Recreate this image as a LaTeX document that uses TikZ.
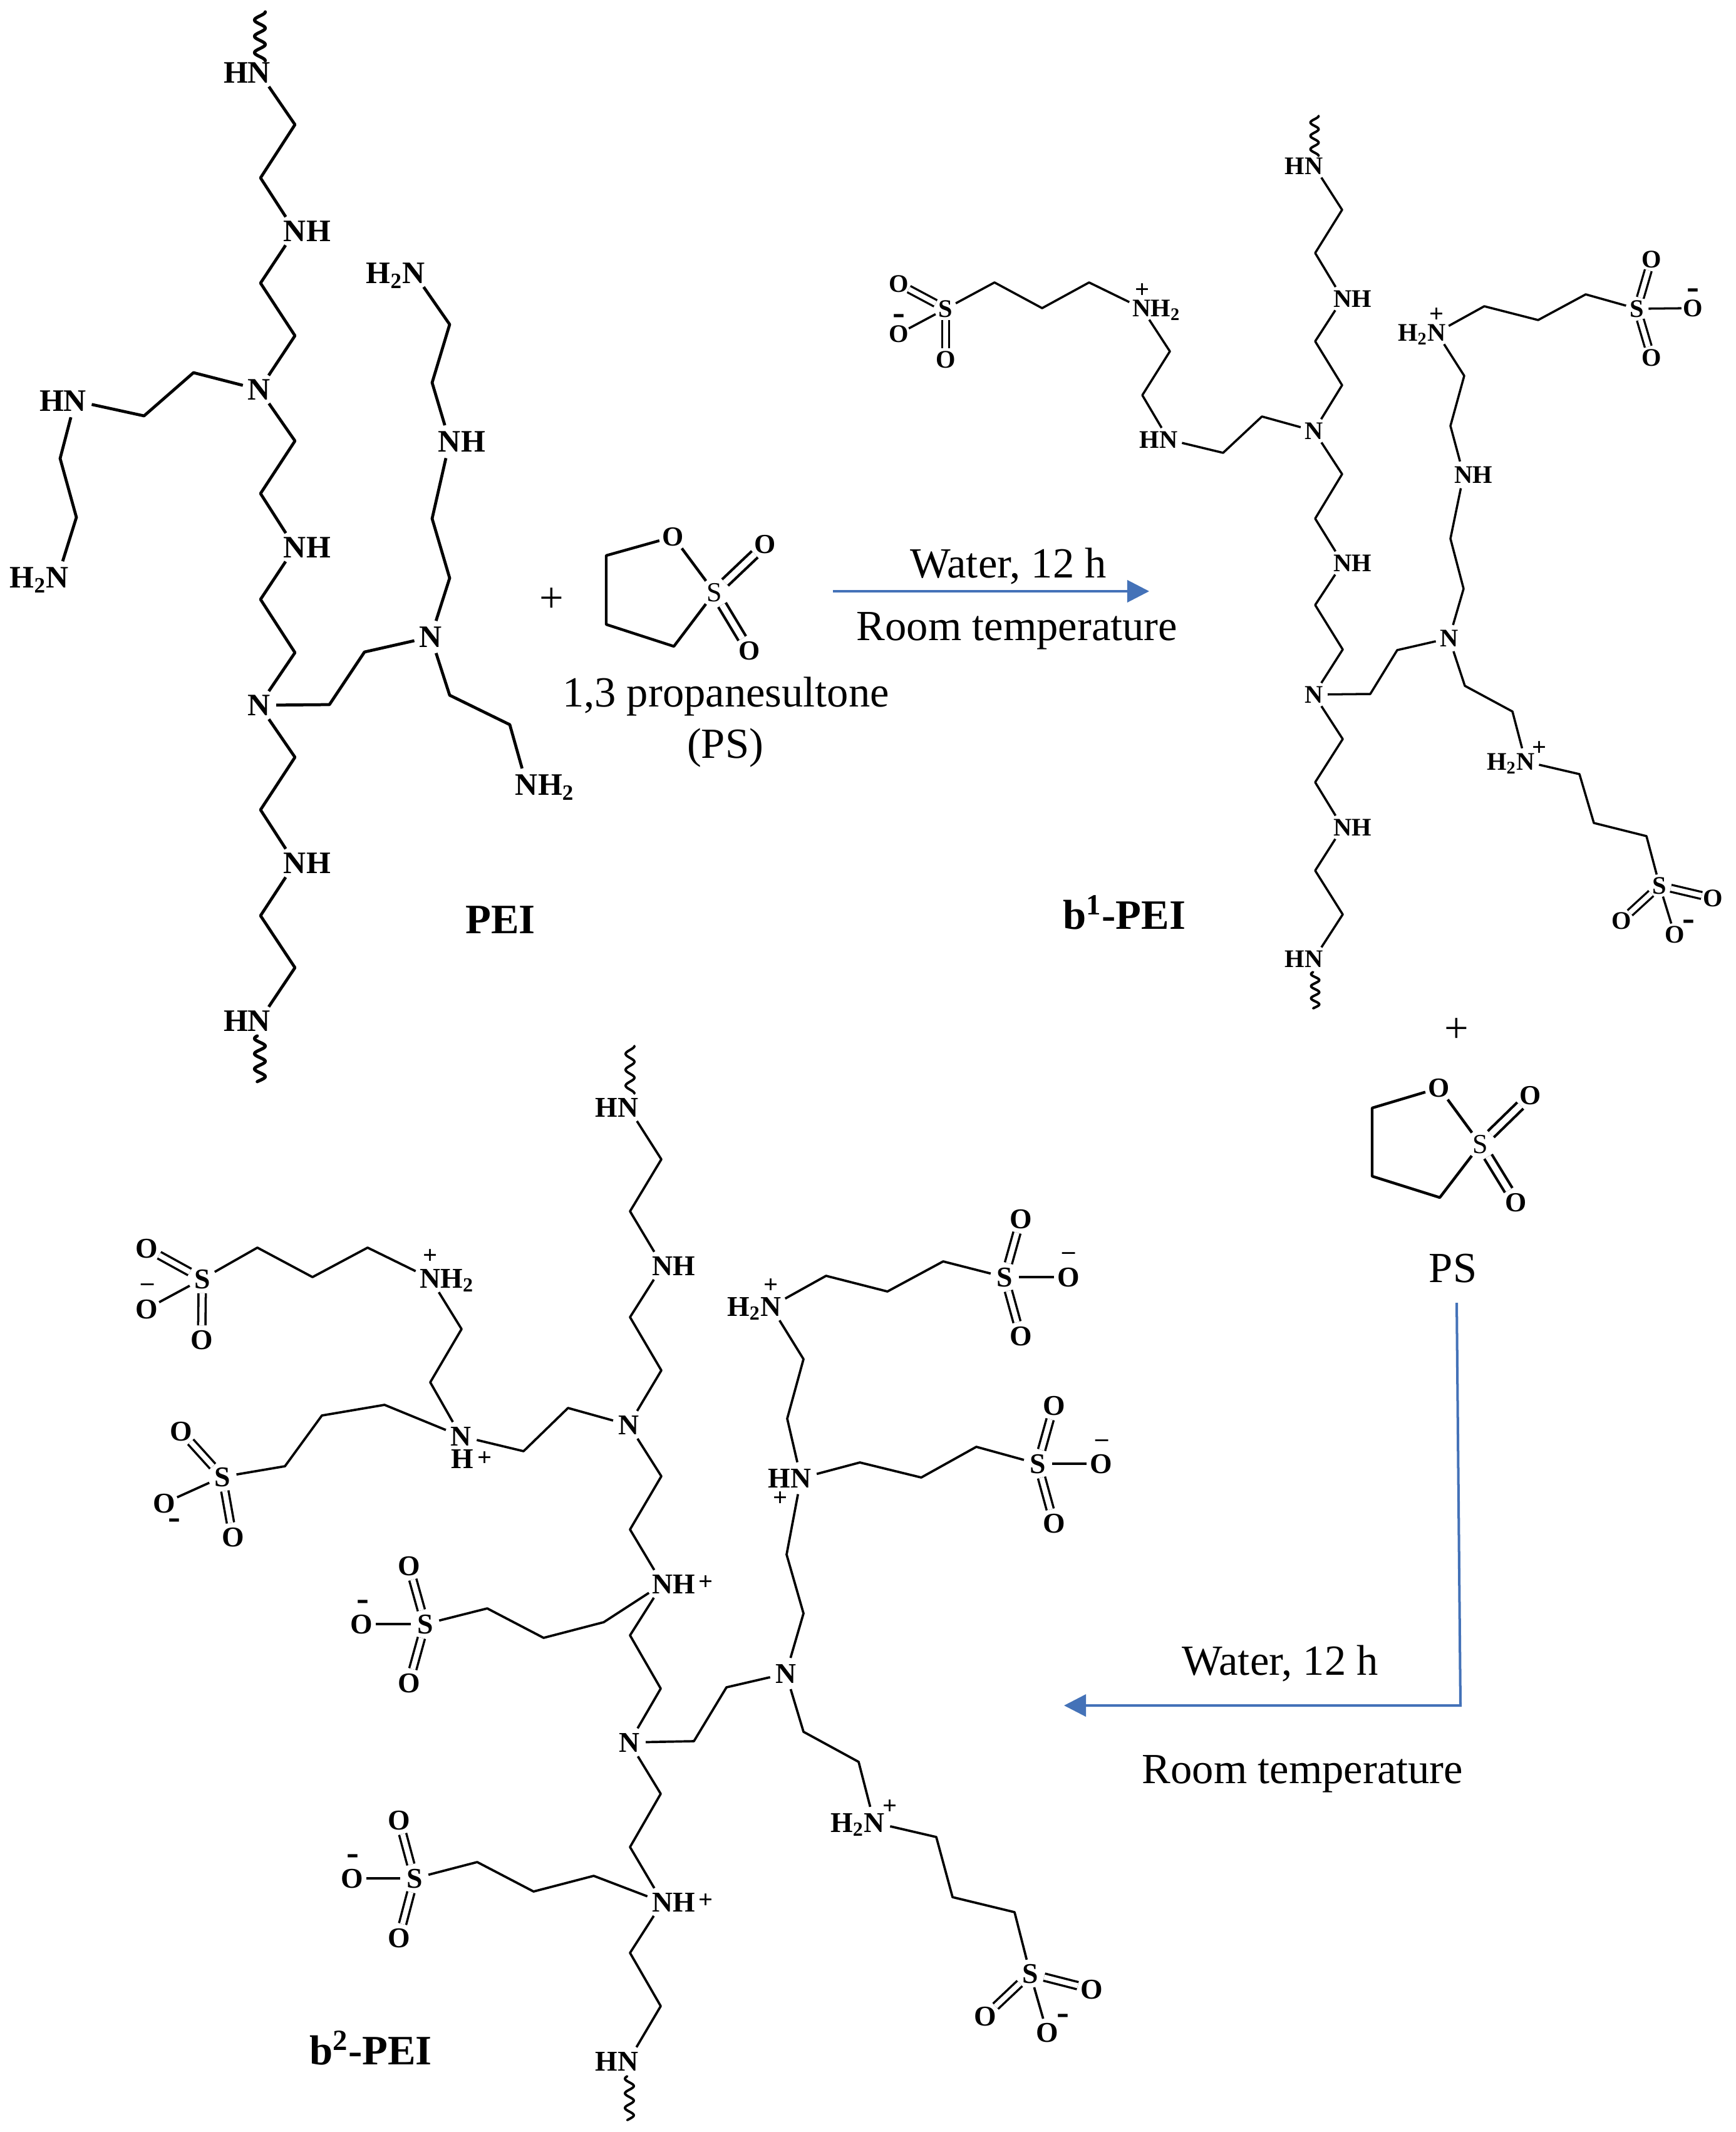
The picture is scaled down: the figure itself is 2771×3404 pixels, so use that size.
\documentclass[tikz,border=0pt]{standalone}
\usepackage{fontspec}
\setmainfont{Liberation Serif}
\usetikzlibrary{arrows.meta}
\definecolor{arrowblue}{HTML}{4472B8}
% atom label: #2 is centred on the node, #1 hangs left and #3 hangs right
\newcommand\lab[3]{\raisebox{-.33em}[0pt][0pt]{\makebox[0pt]{\llap{#1}#2\rlap{#3}}}}
\newcommand\mns{\raisebox{-.22em}[0pt][0pt]{\makebox[0pt]{-}}}
\newcommand\wavy[6]{\draw[line width=#6,line cap=round] plot[smooth,domain=0:1,samples=91,variable=\t] ({#1+#2*cos(#5+1080*\t)},{#3+(#4-#3)*\t});}
\tikzset{
  atomshape/.style={circle,inner sep=0pt,outer sep=0pt},
  pn/.style={atomshape,minimum size=15.4pt,font=\fontsize{14.2}{16}\selectfont\bfseries},
  bn/.style={atomshape,minimum size=12.5pt,font=\fontsize{11.5}{13}\selectfont\bfseries},
  bx/.style={atomshape,minimum size=10.4pt,font=\fontsize{11.5}{13}\selectfont\bfseries},
  cn/.style={atomshape,minimum size=14.8pt,font=\fontsize{13}{15}\selectfont\bfseries},
  cx/.style={atomshape,minimum size=13pt,font=\fontsize{13}{15}\selectfont\bfseries},
  ro/.style={atomshape,minimum size=13.1pt,font=\fontsize{12.5}{14}\selectfont\bfseries},
  rs/.style={atomshape,minimum size=13.1pt,font=\fontsize{12.5}{14}\selectfont},
  chg/.style={inner sep=0pt,font=\fontsize{11.5}{13}\selectfont\bfseries},
  chm/.style={inner sep=0pt,font=\fontsize{17}{18}\selectfont\bfseries},
  txt/.style={inner sep=0pt,anchor=base,font=\fontsize{19.5}{22}\selectfont},
  ttl/.style={inner sep=0pt,anchor=base,font=\fontsize{19}{22}\selectfont\bfseries},
  pb/.style={line width=1.35pt,line join=round},
  bb/.style={line width=1pt,line join=round},
  cb/.style={line width=1.05pt,line join=round},
  rb/.style={line width=1.25pt,line join=round},
  bd/.style={double,double distance=2.2pt,line width=.95pt},
  cd/.style={double,double distance=2.3pt,line width=1pt},
  rd/.style={double,double distance=2.7pt,line width=1.2pt},
  flow/.style={draw=arrowblue,line width=1.14pt,-{Triangle[length=10pt,width=10pt,fill=arrowblue]}},
}
\begin{document}
\begin{tikzpicture}[x=0.01cm,y=-0.01cm]
\useasboundingbox (0,0) rectangle (2771,3404);
\fill[white] (0,0) rectangle (2771,3404);

% ---------- PEI ----------
\node[pn] (p1) at (414,116) {\lab{H}{N}{}};
\node[pn] (p2) at (471,369) {\lab{}{N}{H}};
\node[pn] (p3) at (414,622) {\lab{}{N}{}};
\node[pn] (p4) at (120,640) {\lab{H}{N}{}};
\node[pn] (p5) at (92,922) {\lab{H\textsubscript{2}}{N}{}};
\node[pn] (p6) at (471,874) {\lab{}{N}{H}};
\node[pn] (p7) at (414,1126) {\lab{}{N}{}};
\node[pn] (p8) at (471,1378) {\lab{}{N}{H}};
\node[pn] (p9) at (414,1630) {\lab{H}{N}{}};
\node[pn] (p10) at (688,1017) {\lab{}{N}{}};
\node[pn] (p11) at (718,705) {\lab{}{N}{H}};
\node[pn] (p12) at (661,436) {\lab{H\textsubscript{2}}{N}{}};
\node[pn] (p13) at (841,1253) {\lab{}{N}{H\textsubscript{2}}};
\draw[pb] (p1) -- (471,199) -- (416,284) -- (p2);
\draw[pb] (p2) -- (416,452) -- (471,536) -- (p3);
\draw[pb] (p3) -- (309,595) -- (230,664) -- (p4);
\draw[pb] (p4) -- (96,732) -- (122,826) -- (p5);
\draw[pb] (p3) -- (471,704) -- (416,788) -- (p6);
\draw[pb] (p6) -- (416,957) -- (471,1042) -- (p7);
\draw[pb] (p7) -- (471,1209) -- (416,1293) -- (p8);
\draw[pb] (p8) -- (416,1462) -- (471,1545) -- (p9);
\draw[pb] (p7) -- (526,1125) -- (582,1041) -- (p10);
\draw[pb] (p10) -- (718,923) -- (690,828) -- (p11);
\draw[pb] (p11) -- (690,611) -- (718,518) -- (p12);
\draw[pb] (p10) -- (718,1110) -- (814,1157) -- (p13);
\wavy{415}{8.5}{19}{97}{0}{1.45pt}
\wavy{415}{8.5}{1654}{1727}{120}{1.45pt}
\node[ttl] (peit) at (799,1490) {PEI};

% ---------- first reaction ----------
\node[font=\fontsize{19.5}{22}\selectfont,inner sep=0pt] (plus1) at (881,958) {+};
\node[ro] (r1o) at (1075,857) {\lab{}{O}{}};
\node[rs] (r1s) at (1141,946) {\lab{}{S}{}};
\node[ro] (r1a) at (1222,869) {\lab{}{O}{}};
\node[ro] (r1b) at (1197,1039) {\lab{}{O}{}};
\draw[rb] (r1o) -- (968,887) -- (968,997) -- (1076,1032) -- (r1s);
\draw[rb] (r1o) -- (r1s);
\draw[rd] (r1s) -- (r1a);
\draw[rd] (r1s) -- (r1b);
\node[txt] (ps1a) at (1159,1128) {1,3 propanesultone};
\node[txt] (ps1b) at (1158,1210) {(PS)};
\coordinate (a1s) at (1330,944);
\coordinate (a1e) at (1835,944);
\draw[flow] (a1s) -- (a1e);
\node[txt] (w1) at (1610,923) {Water, 12 h};
\node[txt] (t1) at (1624,1022) {Room temperature};

% ---------- b1-PEI ----------
\node[bn] (b1) at (2098,265) {\lab{H}{N}{}};
\node[bn] (b2) at (2144,477) {\lab{}{N}{H}};
\node[bn] (b3) at (2098,688) {\lab{}{N}{}};
\node[bn] (b4) at (1866,702) {\lab{H}{N}{}};
\node[bn] (b5) at (1823,492) {\lab{}{N}{H\textsubscript{2}}};
\node[bn] (b6) at (2144,899) {\lab{}{N}{H}};
\node[bn] (b7) at (2098,1109) {\lab{}{N}{}};
\node[bn] (b8) at (2144,1321) {\lab{}{N}{H}};
\node[bn] (b9) at (2098,1531) {\lab{H}{N}{}};
\node[bn] (b10) at (2314,1019) {\lab{}{N}{}};
\node[bn] (b11) at (2337,758) {\lab{}{N}{H}};
\node[bn] (b12) at (2294,531) {\lab{H\textsubscript{2}}{N}{}};
\node[bn] (b13) at (2436,1216) {\lab{H\textsubscript{2}}{N}{}};
\node[chg] (b5p) at (1824,464) {+};
\node[chg] (b12p) at (2294,503) {+};
\node[chg] (b13p) at (2458,1195) {+};
\node[bx] (bs1) at (1510,493) {\lab{}{S}{}};
\node[bx] (bo1a) at (1435,453) {\lab{}{O}{}};
\node[bx] (bo1b) at (1435,533) {\lab{}{O}{}};
\node[bx] (bo1c) at (1510,574) {\lab{}{O}{}};
\node[chm] (bm1) at (1435,505) {\mns};
\node[bx] (bs2) at (2614,493) {\lab{}{S}{}};
\node[bx] (bo2a) at (2637,414) {\lab{}{O}{}};
\node[bx] (bo2b) at (2703,492) {\lab{}{O}{}};
\node[bx] (bo2c) at (2637,571) {\lab{}{O}{}};
\node[chm] (bm2) at (2703,464) {\mns};
\node[bx] (bs3) at (2650,1414) {\lab{}{S}{}};
\node[bx] (bo3a) at (2735,1434) {\lab{}{O}{}};
\node[bx] (bo3b) at (2589,1470) {\lab{}{O}{}};
\node[bx] (bo3c) at (2674,1492) {\lab{}{O}{}};
\node[chm] (bm3) at (2696,1472) {\mns};
\draw[bb] (b1) -- (2143,335) -- (2100,404) -- (b2);
\draw[bb] (b2) -- (2100,545) -- (2143,615) -- (b3);
\draw[bb] (b3) -- (2143,757) -- (2100,828) -- (b6);
\draw[bb] (b6) -- (2100,966) -- (2144,1037) -- (b7);
\draw[bb] (b7) -- (2144,1180) -- (2100,1249) -- (b8);
\draw[bb] (b8) -- (2100,1390) -- (2144,1460) -- (b9);
\draw[bb] (b3) -- (2015,665) -- (1953,723) -- (b4);
\draw[bb] (b4) -- (1824,631) -- (1868,561) -- (b5);
\draw[bb] (b5) -- (1739,451) -- (1664,492) -- (1588,451) -- (bs1);
\draw[bb] (b7) -- (2188,1108) -- (2231,1038) -- (b10);
\draw[bb] (b10) -- (2337,940) -- (2316,860) -- (b11);
\draw[bb] (b11) -- (2316,680) -- (2338,600) -- (b12);
\draw[bb] (b12) -- (2370,489) -- (2456,511) -- (2532,470) -- (bs2);
\draw[bb] (b10) -- (2339,1095) -- (2415,1136) -- (b13);
\draw[bb] (b13) -- (2522,1236) -- (2545,1314) -- (2629,1335) -- (bs3);
\draw[bd] (bs1) -- (bo1a);
\draw[bb] (bs1) -- (bo1b);
\draw[bd] (bs1) -- (bo1c);
\draw[bd] (bs2) -- (bo2a);
\draw[bb] (bs2) -- (bo2b);
\draw[bd] (bs2) -- (bo2c);
\draw[bd] (bs3) -- (bo3a);
\draw[bd] (bs3) -- (bo3b);
\draw[bb] (bs3) -- (bo3c);
\wavy{2099}{6.5}{185}{249}{0}{1.1pt}
\wavy{2100}{6.5}{1552}{1610}{120}{1.1pt}
\node[ttl] (b1t) at (1795,1483) {b\textsuperscript{1}-PEI};

% ---------- second reaction ----------
\node[font=\fontsize{19.5}{22}\selectfont,inner sep=0pt] (plus2) at (2326,1645) {+};
\node[ro] (r2o) at (2298,1737) {\lab{}{O}{}};
\node[rs] (r2s) at (2364,1827) {\lab{}{S}{}};
\node[ro] (r2a) at (2444,1749) {\lab{}{O}{}};
\node[ro] (r2b) at (2421,1920) {\lab{}{O}{}};
\draw[rb] (r2o) -- (2191,1769) -- (2191,1878) -- (2299,1912) -- (r2s);
\draw[rb] (r2o) -- (r2s);
\draw[rd] (r2s) -- (r2a);
\draw[rd] (r2s) -- (r2b);
\node[txt] (ps2) at (2320,2047) {PS};
\coordinate (a2s) at (2326,2080);
\coordinate (a2c) at (2332,2723);
\coordinate (a2e) at (1699,2723);
\draw[flow] (a2s) -- (a2c) -- (a2e);
\node[txt] (w2) at (2044,2674) {Water, 12 h};
\node[txt] (t2) at (2080,2847) {Room temperature};

% ---------- b2-PEI ----------
\node[cn] (c1) at (1003,1768) {\lab{H}{N}{}};
\node[cn] (c2) at (1058,2021) {\lab{}{N}{H}};
\node[cn] (c3) at (1004,2275) {\lab{}{N}{}};
\node[cn] (c4) at (736,2293) {\lab{}{N}{}};
\node[cn] (c4h) at (738,2329) {\lab{}{H}{}};
\node[chg] (c4p) at (774,2329) {+};
\node[cn] (c5) at (687,2041) {\lab{}{N}{H\textsubscript{2}}};
\node[chg] (c5p) at (687,2006) {+};
\node[cn] (c6) at (1058,2529) {\lab{}{N}{H}};
\node[chg] (c6p) at (1127,2527) {+};
\node[cn] (c7) at (1005,2782) {\lab{}{N}{}};
\node[cn] (c8) at (1058,3037) {\lab{}{N}{H}};
\node[chg] (c8p) at (1127,3035) {+};
\node[cn] (c9) at (1003,3291) {\lab{H}{N}{}};
\node[cn] (c10) at (1255,2672) {\lab{}{N}{}};
\node[cn] (c11) at (1279,2360) {\lab{H}{N}{}};
\node[chg] (c11p) at (1246,2393) {+};
\node[cn] (c12) at (1231,2086) {\lab{H\textsubscript{2}}{N}{}};
\node[chg] (c12p) at (1231,2053) {+};
\node[cn] (c13) at (1396,2910) {\lab{H\textsubscript{2}}{N}{}};
\node[chg] (c13p) at (1421,2885) {+};
% sulfonates
\node[cx] (s1) at (323,2042) {\lab{}{S}{}};
\node[cx] (s1a) at (234,1993) {\lab{}{O}{}};
\node[cx] (s1b) at (234,2090) {\lab{}{O}{}};
\node[cx] (s1c) at (322,2139) {\lab{}{O}{}};
\node[chg] (s1m) at (236,2055) {–};
\node[cx] (s2) at (355,2358) {\lab{}{S}{}};
\node[cx] (s2a) at (289,2285) {\lab{}{O}{}};
\node[cx] (s2b) at (262,2400) {\lab{}{O}{}};
\node[cx] (s2c) at (372,2454) {\lab{}{O}{}};
\node[chm] (s2m) at (278,2428) {\mns};
\node[cx] (s3) at (679,2593) {\lab{}{S}{}};
\node[cx] (s3a) at (653,2500) {\lab{}{O}{}};
\node[cx] (s3b) at (577,2593) {\lab{}{O}{}};
\node[cx] (s3c) at (653,2687) {\lab{}{O}{}};
\node[chm] (s3m) at (579,2558) {\mns};
\node[cx] (s4) at (662,2999) {\lab{}{S}{}};
\node[cx] (s4a) at (637,2906) {\lab{}{O}{}};
\node[cx] (s4b) at (562,2999) {\lab{}{O}{}};
\node[cx] (s4c) at (637,3094) {\lab{}{O}{}};
\node[chm] (s4m) at (563,2964) {\mns};
\node[cx] (s5) at (1604,2039) {\lab{}{S}{}};
\node[cx] (s5a) at (1630,1946) {\lab{}{O}{}};
\node[cx] (s5b) at (1706,2039) {\lab{}{O}{}};
\node[cx] (s5c) at (1630,2133) {\lab{}{O}{}};
\node[chg] (s5m) at (1707,2005) {–};
\node[cx] (s6) at (1657,2337) {\lab{}{S}{}};
\node[cx] (s6a) at (1683,2244) {\lab{}{O}{}};
\node[cx] (s6b) at (1758,2337) {\lab{}{O}{}};
\node[cx] (s6c) at (1683,2432) {\lab{}{O}{}};
\node[chg] (s6m) at (1760,2304) {–};
\node[cx] (s7) at (1645,3151) {\lab{}{S}{}};
\node[cx] (s7a) at (1743,3176) {\lab{}{O}{}};
\node[cx] (s7b) at (1573,3219) {\lab{}{O}{}};
\node[cx] (s7c) at (1672,3245) {\lab{}{O}{}};
\node[chm] (s7m) at (1697,3219) {\mns};
% chain bonds
\draw[cb] (c1) -- (1056,1851) -- (1006,1934) -- (c2);
\draw[cb] (c2) -- (1006,2103) -- (1056,2188) -- (c3);
\draw[cb] (c3) -- (907,2248) -- (836,2317) -- (c4);
\draw[cb] (c4) -- (687,2207) -- (737,2122) -- (c5);
\draw[cb] (c5) -- (587,1992) -- (499,2039) -- (411,1992) -- (s1);
\draw[cb] (c4) -- (614,2243) -- (514,2260) -- (455,2341) -- (s2);
\draw[cb] (c3) -- (1056,2357) -- (1006,2442) -- (c6);
\draw[cb] (c6) -- (964,2590) -- (868,2615) -- (778,2568) -- (s3);
\draw[cb] (c6) -- (1006,2611) -- (1055,2696) -- (c7);
\draw[cb] (c7) -- (1055,2864) -- (1006,2949) -- (c8);
\draw[cb] (c8) -- (948,2995) -- (852,3020) -- (762,2973) -- (s4);
\draw[cb] (c8) -- (1006,3118) -- (1055,3203) -- (c9);
\draw[cb] (c7) -- (1108,2780) -- (1160,2694) -- (c10);
\draw[cb] (c10) -- (1283,2576) -- (1256,2482) -- (c11);
\draw[cb] (c11) -- (1257,2265) -- (1283,2170) -- (c12);
\draw[cb] (c12) -- (1319,2037) -- (1417,2062) -- (1506,2014) -- (s5);
\draw[cb] (c11) -- (1373,2335) -- (1471,2359) -- (1559,2310) -- (s6);
\draw[cb] (c10) -- (1283,2765) -- (1371,2813) -- (c13);
\draw[cb] (c13) -- (1495,2933) -- (1521,3029) -- (1620,3053) -- (s7);
% sulfonate bonds
\draw[cd] (s1) -- (s1a);
\draw[cb] (s1) -- (s1b);
\draw[cd] (s1) -- (s1c);
\draw[cd] (s2) -- (s2a);
\draw[cb] (s2) -- (s2b);
\draw[cd] (s2) -- (s2c);
\draw[cd] (s3) -- (s3a);
\draw[cb] (s3) -- (s3b);
\draw[cd] (s3) -- (s3c);
\draw[cd] (s4) -- (s4a);
\draw[cb] (s4) -- (s4b);
\draw[cd] (s4) -- (s4c);
\draw[cd] (s5) -- (s5a);
\draw[cb] (s5) -- (s5b);
\draw[cd] (s5) -- (s5c);
\draw[cd] (s6) -- (s6a);
\draw[cb] (s6) -- (s6b);
\draw[cd] (s6) -- (s6c);
\draw[cd] (s7) -- (s7a);
\draw[cd] (s7) -- (s7b);
\draw[cb] (s7) -- (s7c);
\wavy{1006}{7}{1670}{1746}{0}{1.1pt}
\wavy{1005}{7}{3315}{3385}{120}{1.1pt}
\node[ttl] (b2t) at (592,3296) {b\textsuperscript{2}-PEI};
\end{tikzpicture}
\end{document}
